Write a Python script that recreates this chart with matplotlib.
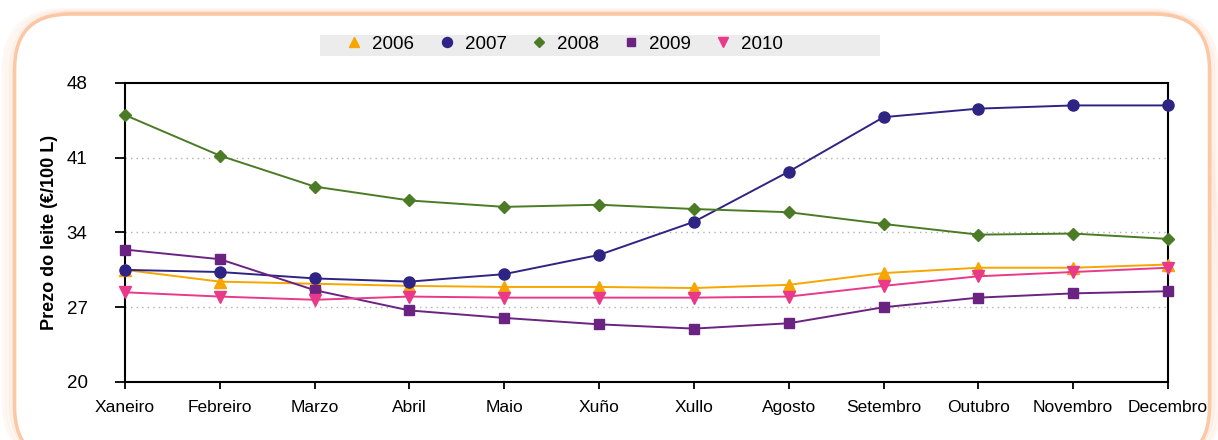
import matplotlib
matplotlib.use("Agg")
import matplotlib.pyplot as plt
from matplotlib.patches import FancyBboxPatch, Rectangle
from matplotlib import font_manager

months = ["Xaneiro", "Febreiro", "Marzo", "Abril", "Maio", "Xuño", "Xullo",
          "Agosto", "Setembro", "Outubro", "Novembro", "Decembro"]
y2006 = [30.5, 29.4, 29.2, 29.0, 28.9, 28.9, 28.8, 29.1, 30.2, 30.7, 30.7, 31.0]
y2007 = [30.5, 30.3, 29.7, 29.4, 30.1, 31.9, 35.0, 39.7, 44.8, 45.6, 45.9, 45.9]
y2008 = [45.0, 41.2, 38.3, 37.0, 36.4, 36.6, 36.2, 35.9, 34.8, 33.8, 33.9, 33.4]
y2009 = [32.4, 31.5, 28.6, 26.7, 26.0, 25.4, 25.0, 25.5, 27.0, 27.9, 28.3, 28.5]
y2010 = [28.4, 28.0, 27.7, 28.0, 27.9, 27.9, 27.9, 28.0, 29.0, 29.9, 30.3, 30.7]
yticks = [20, 27, 34, 41, 48]
ylabel = "Prezo do leite (€/100 L)"

names = {f.name for f in font_manager.fontManager.ttflist}
narrow = "Liberation Sans Narrow" if "Liberation Sans Narrow" in names else "Liberation Sans"

W, H = 1218, 440
fig = plt.figure(figsize=(W / 100, H / 100), dpi=100)

# rounded peach frame with soft glow
for i, a in enumerate([0.10, 0.15, 0.25, 0.45]):
    pad = (3 - i) * 0.003
    p = FancyBboxPatch((0.012 - pad, 0.0 - 0.05), 0.981 + 2 * pad, 0.968 + 0.05 + pad,
                       boxstyle="round,pad=0,rounding_size=0.05",
                       transform=fig.transFigure, facecolor="none",
                       edgecolor="#fbc4a0", linewidth=3, alpha=a,
                       mutation_aspect=W / H, zorder=-10)
    fig.patches.append(p)
fig.patches.append(FancyBboxPatch((0.012, -0.05), 0.981, 1.018,
                                  boxstyle="round,pad=0,rounding_size=0.045",
                                  transform=fig.transFigure, facecolor="white",
                                  edgecolor="#fcc7a4", linewidth=2.5,
                                  mutation_aspect=W / H, zorder=-9))
# legend background strip
fig.patches.append(Rectangle((320 / W, 1 - 56 / H), (880 - 320) / W, 21 / H,
                             transform=fig.transFigure, facecolor="#ececec",
                             edgecolor="none", zorder=-8))

ax = fig.add_axes([125 / W, 1 - 382 / H, (1168 - 125) / W, (382 - 83) / H])
ax.set_facecolor("none")
ax.set_zorder(5)
x = list(range(len(months)))
series = [
    ("2006", y2006, "#f7a600", "^", 8.5),
    ("2007", y2007, "#2e2483", "o", 8),
    ("2008", y2008, "#4b7b25", "D", 6),
    ("2009", y2009, "#6b2381", "s", 7),
    ("2010", y2010, "#e8398b", "v", 8.5),
]
for name, ys, c, m, ms in series:
    ax.plot(x, ys, color=c, marker=m, markersize=ms, linewidth=1.4, label=name,
            markeredgecolor=c, zorder=3, clip_on=False)

ax.set_xlim(0, 11)
ax.set_ylim(20, 48)
ax.set_yticks(yticks)
ax.set_xticks(x)
ax.set_xticklabels(months, family=narrow, fontsize=12.5)
for lab in ax.get_yticklabels():
    lab.set_family("Liberation Sans")
    lab.set_fontsize(13.5)
ax.tick_params(axis="y", direction="out", length=7, width=1.3, pad=20)
ax.tick_params(axis="x", direction="out", length=5, width=1.3, pad=8)
for s in ax.spines.values():
    s.set_linewidth(1.5)
    s.set_color("black")
for v in [27, 34, 41]:
    ax.axhline(v, color="#b0b0b0", linestyle=(0, (1, 3)), linewidth=1, zorder=1)
ax.set_ylabel(ylabel, family="Liberation Sans", fontweight="bold", fontsize=13)
ax.yaxis.set_label_coords((58 - 125) / 1043, 0.5)

leg = fig.legend(loc="center left", bbox_to_anchor=(345 / W, 1 - 44 / H), ncol=5,
                 frameon=False, prop={"family": "Liberation Sans", "size": 13.5},
                 handlelength=1.0, columnspacing=1.22, handletextpad=0.46,
                 borderpad=0, borderaxespad=0, markerscale=0.9)
for h in leg.legend_handles:
    h.set_linestyle("none")

fig.savefig("out.png", dpi=100)
